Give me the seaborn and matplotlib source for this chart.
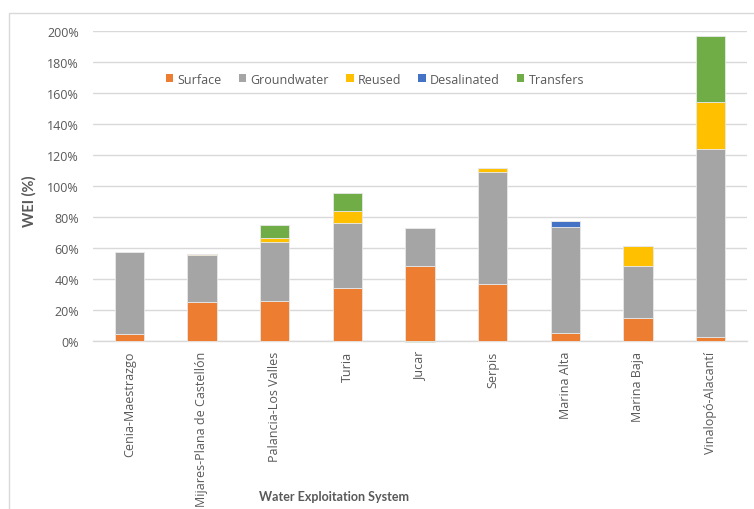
import numpy as np
import pandas as pd
import matplotlib
matplotlib.use("Agg")
import matplotlib.pyplot as plt
from matplotlib.patches import Rectangle, Patch
from matplotlib.ticker import FuncFormatter
import seaborn as sns

# Water Exploitation Index by source, per exploitation system (% of renewable resources)
systems = ["Cenia-Maestrazgo", "Mijares-Plana de Castellón", "Palancia-Los Valles",
           "Turia", "Jucar", "Serpis", "Marina Alta", "Marina Baja", "Vinalopó-Alacantí"]
surface = [4.5, 25.0, 26.0, 34.4, 48.2, 36.8, 5.0, 14.6, 2.4]
groundwater = [53.0, 30.5, 37.7, 41.9, 24.9, 72.4, 68.7, 34.0, 121.7]
reused = [0.0, 0.5, 2.6, 7.4, 0.0, 2.2, 0.0, 12.5, 29.9]
desalinated = [0.0, 0.0, 0.0, 0.0, 0.0, 0.0, 3.7, 0.0, 0.0]
transfers = [0.0, 0.0, 8.3, 12.0, -0.7, 0.0, 0.0, 0.0, 42.6]

series = [("Surface", surface, "#ED7D31"),
          ("Groundwater", groundwater, "#A5A5A5"),
          ("Reused", reused, "#FFC000"),
          ("Desalinated", desalinated, "#4472C4"),
          ("Transfers", transfers, "#70AD47")]

TEXT = "#595959"
GRID = "#D9D9D9"
FONT = ["Open Sans", "DejaVu Sans"]
TITLE_FONT = ["Lato", "DejaVu Sans"]

sns.set_theme(style="white")
plt.rcParams["font.family"] = FONT

W, H, DPI = 754, 510, 100
fig = plt.figure(figsize=(W / DPI, H / DPI), dpi=DPI)

# light frame around the chart area
fig.patches.append(Rectangle((9 / W, -0.1), 2.0, 1 - 14 / H + 0.1, transform=fig.transFigure,
                             facecolor="none", edgecolor=GRID, linewidth=1.0, zorder=0))

ax = fig.add_axes([93 / W, (H - 342) / H, (747 - 93) / W, (342 - 32) / H])

# stacked bars: positives stack upward, negatives stack downward from zero
pos_base = np.zeros(len(systems))
neg_base = np.zeros(len(systems))
for name, vals, color in series:
    vals = np.asarray(vals, dtype=float)
    bottom = np.where(vals >= 0, pos_base, neg_base)
    df = pd.DataFrame({"system": systems, "value": vals})
    sns.barplot(data=df, x="system", y="value", order=systems, color=color,
                bottom=bottom, width=0.4, saturation=1, errorbar=None,
                edgecolor="#E8E8E8", linewidth=0.6, ax=ax, zorder=3, clip_on=False)
    pos_base = pos_base + np.clip(vals, 0, None)
    neg_base = neg_base + np.clip(vals, None, 0)

ax.set_xlim(-0.5, len(systems) - 0.5)
ax.set_ylim(0, 200)
ax.set_yticks(np.arange(0, 201, 20))
ax.yaxis.set_major_formatter(FuncFormatter(lambda v, _: f"{v:.0f}%"))
ax.yaxis.grid(True, color=GRID, linewidth=1.0, zorder=0)
ax.set_axisbelow(True)
for side in ["left", "right", "top"]:
    ax.spines[side].set_visible(False)
ax.spines["bottom"].set_color(GRID)
ax.spines["bottom"].set_linewidth(1.0)
ax.spines["bottom"].set_zorder(2)

ax.tick_params(axis="y", length=0, pad=10, labelsize=9, labelcolor=TEXT)
ax.tick_params(axis="x", length=0, pad=7, labelsize=9, labelcolor=TEXT)
plt.setp(ax.get_xticklabels(), rotation=90, va="top", ha="center")
ax.set_xlabel("")
ax.set_ylabel("")

fig.text(29 / W, 1 - 201 / H, "WEI (%)", rotation=90, ha="center", va="center",
         fontsize=10.5, fontweight="bold", color=TEXT, family=TITLE_FONT)
fig.text(334 / W, 1 - 497 / H, "Water Exploitation System", ha="center", va="center",
         fontsize=9, fontweight="bold", color=TEXT, family=TITLE_FONT)

handles = [Patch(facecolor=c, edgecolor="none", label=n) for n, _, c in series]
fig.legend(handles=handles, loc="center", bbox_to_anchor=(375 / W, 1 - 80 / H), ncol=5,
           frameon=False, fontsize=9, labelcolor=TEXT, handlelength=0.6, handleheight=0.6,
           handletextpad=0.35, columnspacing=1.35)

fig.savefig("out.png", dpi=DPI)
